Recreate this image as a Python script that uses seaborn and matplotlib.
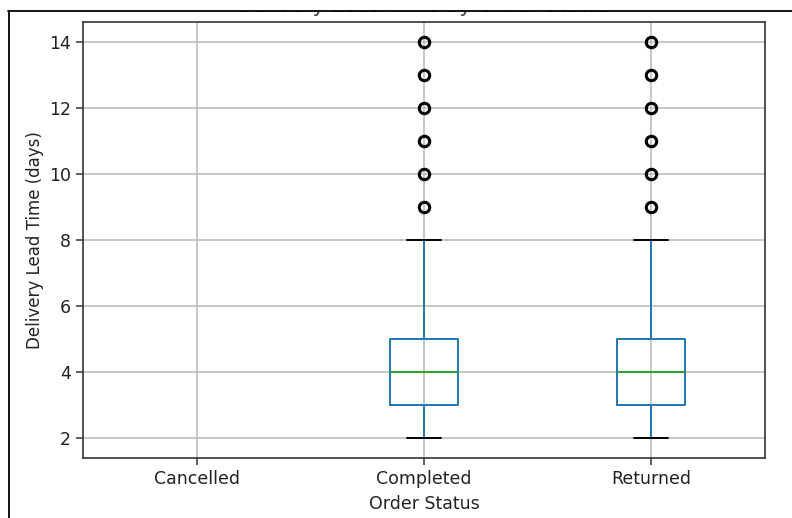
import numpy as np
import pandas as pd
import matplotlib
matplotlib.use("Agg")
import matplotlib.pyplot as plt
import seaborn as sns
from matplotlib.patches import Rectangle
from matplotlib.lines import Line2D

# ---- data ----
statuses = ["Cancelled", "Completed", "Returned"]
lead_days = [2, 3, 4, 5, 6, 7, 8, 9, 10, 11, 12, 13, 14]
completed_counts = [10, 20, 25, 25, 8, 4, 2, 1, 1, 1, 1, 1, 1]
returned_counts = [10, 20, 25, 25, 8, 4, 2, 1, 1, 1, 1, 1, 1]
cancelled_counts = []  # cancelled orders have no delivery lead time
y_ticks = [2, 4, 6, 8, 10, 12, 14]

rows = []
for status, counts in [("Completed", completed_counts), ("Returned", returned_counts)]:
    for d, c in zip(lead_days, counts):
        rows += [(status, d)] * c
df = pd.DataFrame(rows, columns=["Order Status", "Delivery Lead Time (days)"])

# ---- figure ----
sns.set_style("white")
plt.rcParams["font.family"] = ["DejaVu Sans"]
fig = plt.figure(figsize=(7.92, 5.18), dpi=100)
W, H = 792, 518
ax = fig.add_axes([83 / W, 1 - 458 / H, (765 - 83) / W, (458 - 22) / H])

blue = "#1f77b4"
sns.boxplot(
    data=df, x="Order Status", y="Delivery Lead Time (days)", order=statuses,
    fill=False, linecolor=blue, width=0.3, linewidth=1.4, ax=ax,
    boxprops={"color": blue},
    whiskerprops={"color": blue},
    capprops={"color": "black"},
    medianprops={"color": "#2ca02c"},
    flierprops={"marker": "o", "markeredgecolor": "black",
                "markerfacecolor": "none", "markersize": 7.5, "markeredgewidth": 2.2},
)

ax.set_yticks(y_ticks)
ax.set_ylim(1.4, 14.6)
ax.set_xlim(-0.5, 2.5)
ax.grid(True, color="#b8b8b8", linewidth=1.1)
ax.set_axisbelow(True)
for s in ax.spines.values():
    s.set_visible(True)
    s.set_color("#333333")
    s.set_linewidth(1.2)
ax.tick_params(axis="both", labelsize=12.5, length=5, width=1.1, color="#333333",
               left=True, bottom=True, labelcolor="#222222")
ax.set_xlabel("Order Status", fontsize=12.5, color="#222222", labelpad=5)
ax.set_ylabel("Delivery Lead Time (days)", fontsize=12, color="#222222", labelpad=4)
ax.set_title("Delivery Lead Time by Order Status", fontsize=15, pad=7, color="#444444")

# screenshot frame: the top of the title is cut off by the capture
fig.add_artist(Rectangle((0, 1 - 11 / H), 1, 11 / H, transform=fig.transFigure,
                         facecolor="white", edgecolor="none", zorder=20))
fig.add_artist(Line2D([8 / W, 1], [1 - 11 / H, 1 - 11 / H], transform=fig.transFigure,
                      color="black", linewidth=1.3, zorder=21))
fig.add_artist(Line2D([9 / W, 9 / W], [0, 1 - 11 / H], transform=fig.transFigure,
                      color="black", linewidth=1.3, zorder=21))

fig.savefig("out.png", dpi=100)
